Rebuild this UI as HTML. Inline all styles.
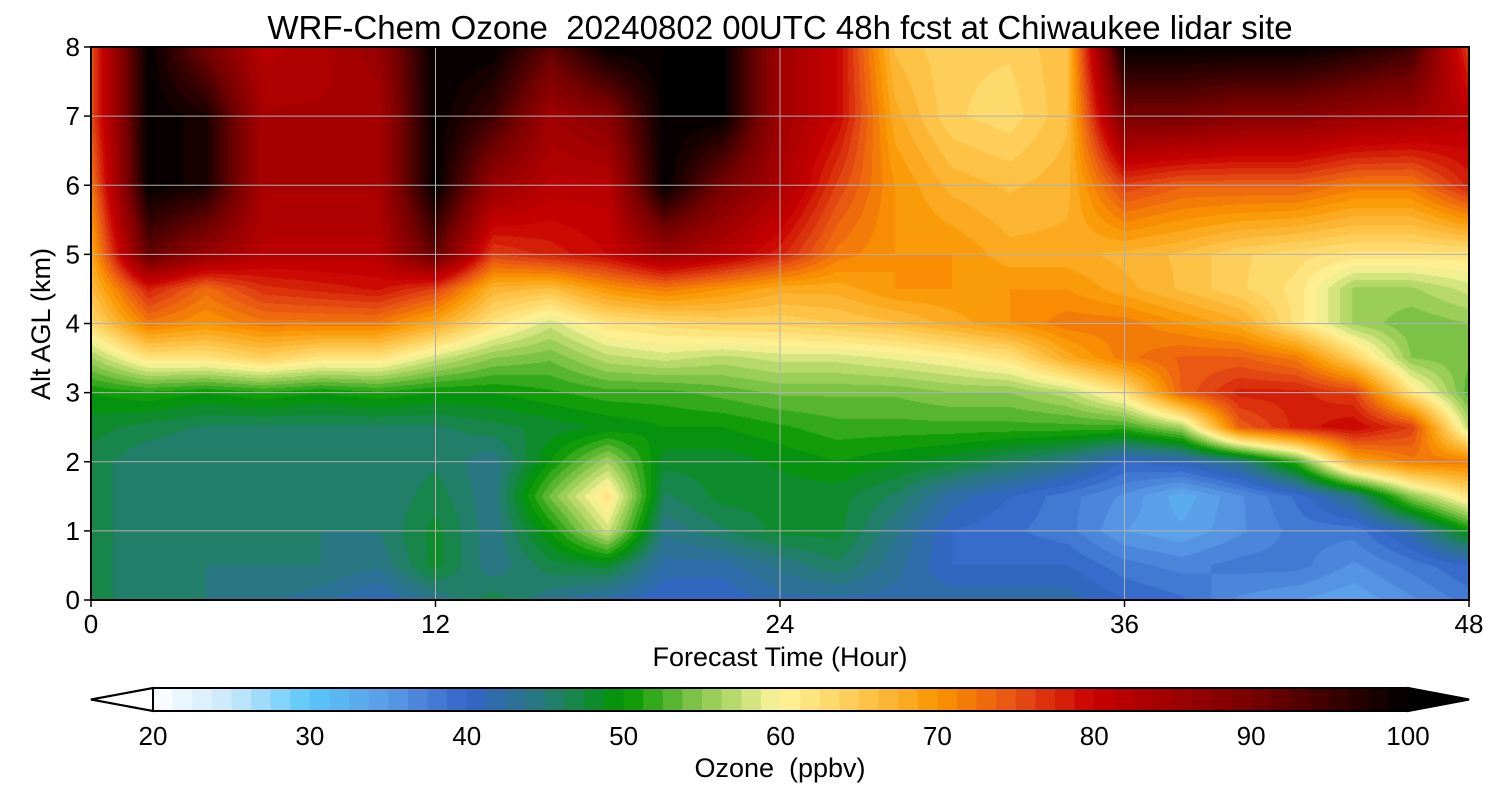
<!DOCTYPE html>
<html><head><meta charset="utf-8"><style>
body{margin:0;background:#fff;width:1500px;height:800px;overflow:hidden;font-family:"Liberation Sans","DejaVu Sans",sans-serif;}
#wrap{position:relative;width:1500px;height:800px;}
.t{position:absolute;color:#000;white-space:nowrap;}
</style></head><body>
<div id="wrap">
<div class="t" style="left:0;width:1560px;text-align:center;top:9px;font-size:33px;">WRF-Chem Ozone&nbsp; 20240802 00UTC 48h fcst at Chiwaukee lidar site</div>
<canvas id="cv" width="1378" height="553" style="position:absolute;left:91px;top:47px;"></canvas>
<svg id="sv" width="1500" height="800" style="position:absolute;left:0;top:0;"></svg>
</div>
<script>
const times=[0,2,4,6,8,10,12,14,16,18,20,22,24,26,28,30,32,34,36,38,40,42,44,46,48];
const alts=[0,0.5,1,1.5,2,2.5,3,3.5,4,4.5,5,6,7,8];
const ozone=[
[47,47,47,47,47,48,50,56,63,66,68,72,75,75],
[45,45,45,45,45,47,51,62,72,78,92,100,100,100],
[45,45,45,45,45,46,50,62,70,73,86,98,98,90],
[44,45,45,45,45,46,51,64,72,77,82,84,84,82],
[43,45,45,45,45,46,50,62,72,78,82,84,84,83],
[41,44,45,45,45,46,51,62,72,79,82,84,84,86],
[44,48,48,47,46,46,50,58,68,76,92,100,100,100],
[47,44,44,44,44,47,50,55,62,67,76,86,95,100],
[44,47,50,54,50,48,51,54,58,66,78,82,85,92],
[42,48,58,62,56,49,52,57,62,70,80,82,88,100],
[40,42,44,46,48,50,52,58,63,72,85,100,100,100],
[40,42,46,48,48,50,53,57,64,70,82,90,100,100],
[42,44,48,48,49,51,54,58,64,68,78,84,85,85],
[42,46,48,48,50,52,54,58,65,68,72,76,80,80],
[42,43,44,46,49,52,54,59,66,70,70,70,68,66],
[42,40,40,42,48,52,55,60,68,70,70,67,64,64],
[42,40,39,40,46,52,55,62,70,70,68,66,63,64],
[42,40,38,38,44,52,57,68,72,70,68,67,66,66],
[40,38,35,36,40,52,62,72,72,68,67,76,90,100],
[39,37,34,33,41,56,74,74,70,66,66,74,90,100],
[36,38,36,36,44,74,78,74,68,64,64,74,88,100],
[35,38,38,39,52,78,78,72,62,62,63,74,88,100],
[34,36,38,44,68,80,76,64,56,56,62,72,86,98],
[36,38,42,55,72,76,62,55,54,56,62,72,85,95],
[38,40,50,62,72,57,53,54,55,58,62,78,82,76]];
const cbTicks=[20,30,40,50,60,70,80,90,100];
const xTicks=[0,12,24,36,48];
const yTicks=[0,1,2,3,4,5,6,7,8];
const stops=[[20,"#ffffff"],[25,"#c8e8fa"],[30,"#5ac8fa"],[35,"#5a9be6"],[40,"#3264c8"],[45,"#267a78"],[50,"#009600"],[55,"#8cc850"],[60,"#fff59a"],[65,"#fdc850"],[70,"#fa9600"],[75,"#e65014"],[80,"#c80000"],[90,"#780000"],[100,"#000000"]];
const X0=91,X1=1469,Y0=600,Y1=47;
const xs=t=>X0+(t-0)/48*(X1-X0), ys=a=>Y0-a/8*(Y0-Y1);
const cbx=v=>153+(v-20)/80*(1408-153);
function hex(h){return [parseInt(h.substr(1,2),16),parseInt(h.substr(3,2),16),parseInt(h.substr(5,2),16)];}
const S=stops.map(s=>[s[0],hex(s[1])]);
function cmap(v){if(v<=S[0][0])return S[0][1];for(let i=1;i<S.length;i++){if(v<=S[i][0]){const f=(v-S[i-1][0])/(S[i][0]-S[i-1][0]);return S[i-1][1].map((c,k)=>Math.round(c+(S[i][1][k]-c)*f));}}return S[S.length-1][1];}
function q(v){const step=1.25;const b=Math.floor((v-20)/step);return 20+(b+0.5)*step;}
function idx(arr,v){let i=0;while(i<arr.length-2&&v>arr[i+1])i++;const f=Math.max(0,Math.min(1,(v-arr[i])/(arr[i+1]-arr[i])));return [i,f];}
const cv=document.getElementById('cv'),ctx=cv.getContext('2d');
const W=cv.width,H=cv.height,img=ctx.createImageData(W,H);
for(let px=0;px<W;px++){const t=(px+0.5)/W*48;const [i,fx]=idx(times,t);
 for(let py=0;py<H;py++){const a=(H-py-0.5)/H*8;const [j,fy]=idx(alts,a);
  const v=(ozone[i][j]*(1-fx)+ozone[i+1][j]*fx)*(1-fy)+(ozone[i][j+1]*(1-fx)+ozone[i+1][j+1]*fx)*fy;
  const c=cmap(q(v));const o=(py*W+px)*4;img.data[o]=c[0];img.data[o+1]=c[1];img.data[o+2]=c[2];img.data[o+3]=255;}}
ctx.putImageData(img,0,0);
const sv=document.getElementById('sv');const NS="http://www.w3.org/2000/svg";
function mk(tag,at,txt){const e=document.createElementNS(NS,tag);for(const k in at)e.setAttribute(k,at[k]);if(txt!==undefined)e.textContent=txt;sv.appendChild(e);return e;}
xTicks.forEach(t=>{if(t>0&&t<48){const g=mk('line',{x1:xs(t),x2:xs(t),y1:Y1,y2:Y0,stroke:'#b0b0b0','stroke-width':1});

}
const k=mk('line',{x1:xs(t),x2:xs(t),y1:Y0,y2:Y0+7,stroke:'#000','stroke-width':1.5});


const l=mk('text',{x:xs(t),y:Y0+33,'font-size':26,'text-anchor':'middle','font-family':'Liberation Sans, sans-serif'},t);

});
yTicks.forEach(a=>{if(a>0&&a<8){const g=mk('line',{x1:X0,x2:X1,y1:ys(a),y2:ys(a),stroke:'#b0b0b0','stroke-width':1});

}
const k=mk('line',{x1:X0-7,x2:X0,y1:ys(a),y2:ys(a),stroke:'#000','stroke-width':1.5});


const l=mk('text',{x:X0-11,y:ys(a)+9,'font-size':26,'text-anchor':'end','font-family':'Liberation Sans, sans-serif'},a);

});
const fr=mk('rect',{x:X0,y:Y1,width:X1-X0,height:Y0-Y1,fill:'none',stroke:'#000','stroke-width':2});


const xl=mk('text',{x:780,y:666,'font-size':27,'text-anchor':'middle','font-family':'Liberation Sans, sans-serif'},'Forecast Time (Hour)');


const yl=mk('text',{x:50,y:324,'font-size':27,'text-anchor':'middle','font-family':'Liberation Sans, sans-serif',transform:'rotate(-90 50 324)'},'Alt AGL (km)');


const CT=688,CB=711;
for(let v=20;v<100;v+=1.25){const c=cmap(v+0.625);const r=mk('rect',{x:cbx(v),y:CT,width:cbx(v+1.25)-cbx(v)+0.6,height:CB-CT,fill:`rgb(${c})`});

}
const lt=mk('polygon',{points:`153,${CT} 91,${(CT+CB)/2} 153,${CB}`,fill:'#fff',stroke:'#000','stroke-width':2});


const rt=mk('polygon',{points:`1408,${CT} 1469,${(CT+CB)/2} 1408,${CB}`,fill:'#000',stroke:'#000','stroke-width':2});


const cf=mk('polygon',{points:`153,${CT} 1408,${CT} 1469,${(CT+CB)/2} 1408,${CB} 153,${CB} 91,${(CT+CB)/2}`,fill:'none',stroke:'#000','stroke-width':2});


cbTicks.forEach(v=>{const l=mk('text',{x:cbx(v),y:745,'font-size':26,'text-anchor':'middle','font-family':'Liberation Sans, sans-serif'},v);

});
const cl=mk('text',{x:780,y:777,'font-size':27,'text-anchor':'middle','font-family':'Liberation Sans, sans-serif'},'Ozone  (ppbv)');


cl.style.whiteSpace='pre';
</script>
</body></html>
